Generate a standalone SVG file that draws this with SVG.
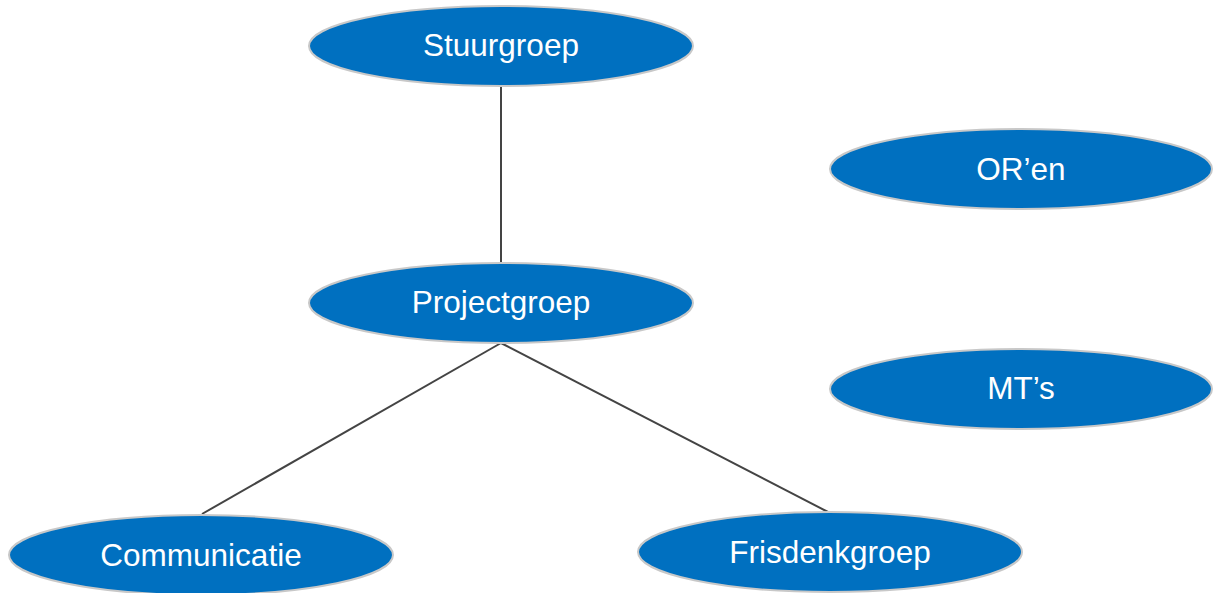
<svg xmlns="http://www.w3.org/2000/svg" width="1219" height="593" viewBox="0 0 1219 593">
<style>
.n ellipse{fill:#0070C0;stroke:#c8c8c8;stroke-width:2}
.n text{fill:#fff;font-family:"Liberation Sans",Arial,sans-serif;font-size:31.5px;text-anchor:middle}
.c line{stroke:#444;stroke-width:2}
</style>
<rect width="1219" height="593" fill="#fff"/>
<g class="c" id="connectors">
<line x1="501" y1="86" x2="501" y2="264"/>
<line x1="501" y1="343" x2="202" y2="514"/>
<line x1="501" y1="343" x2="830" y2="513"/>
</g>
<g class="n" id="stuurgroep"><ellipse cx="501" cy="46" rx="192" ry="40"/><text x="501" y="56">Stuurgroep</text></g>
<g class="n" id="oren"><ellipse cx="1021" cy="169" rx="191" ry="40"/><text x="1021" y="180">OR’en</text></g>
<g class="n" id="projectgroep"><ellipse cx="501" cy="303" rx="192" ry="40"/><text x="501" y="313">Projectgroep</text></g>
<g class="n" id="mts"><ellipse cx="1021" cy="389" rx="191" ry="40"/><text x="1021" y="399">MT’s</text></g>
<g class="n" id="communicatie"><ellipse cx="201" cy="555" rx="192" ry="40"/><text x="201" y="566">Communicatie</text></g>
<g class="n" id="frisdenkgroep"><ellipse cx="830" cy="552" rx="192" ry="40"/><text x="830" y="563">Frisdenkgroep</text></g>
</svg>
